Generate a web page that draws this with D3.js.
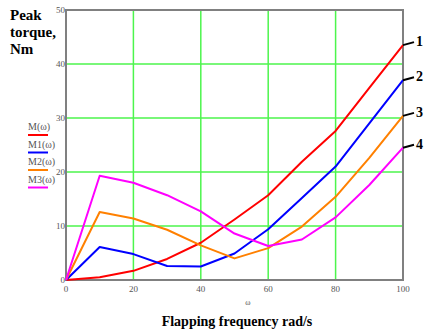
<!DOCTYPE html>
<html>
<head>
<meta charset="utf-8">
<script src="https://cdn.jsdelivr.net/npm/d3@7"></script>
<style>
  body { margin: 0; background: #fff; }
  svg { display: block; }
</style>
</head>
<body>
<script>
// frequency values (rad/s)
const omega = [0, 10, 20, 30, 40, 50, 60, 70, 80, 90, 100];

// peak torque series, Nm
const M  = [0, 0.5, 1.7, 3.9, 6.9, 11.2, 15.7, 21.9, 27.6, 35.6, 43.5];
const M1 = [0, 6.1, 4.8, 2.6, 2.5, 4.9, 9.4, 15.2, 21.0, 29.0, 37.0];
const M2 = [0, 12.6, 11.4, 9.3, 6.4, 4.0, 5.9, 9.9, 15.4, 22.6, 30.4];
const M3 = [0, 19.3, 18.0, 15.7, 12.7, 8.6, 6.3, 7.5, 11.6, 17.6, 24.5];

const seriesNames = ["M(\u03c9)", "M1(\u03c9)", "M2(\u03c9)", "M3(\u03c9)"];
const seriesColors = ["#ff0000", "#0000ff", "#ff8000", "#ff00ff"];
const curveLabels = ["1", "2", "3", "4"];

const xTicks = [0, 20, 40, 60, 80, 100];
const yTicks = [0, 10, 20, 30, 40, 50];

const W = 426, H = 332;
const margin = {left: 66, right: 23, top: 10, bottom: 52};

const svg = d3.select("body").append("svg")
    .attr("width", W)
    .attr("height", H);

const x = d3.scaleLinear().domain([0, 100]).range([margin.left, W - margin.right]);
const y = d3.scaleLinear().domain([0, 50]).range([H - margin.bottom, margin.top]);

// grid
svg.append("g").selectAll("line.gx")
    .data(xTicks.slice(1, -1))
    .join("line")
    .attr("x1", d => x(d)).attr("x2", d => x(d))
    .attr("y1", y(0)).attr("y2", y(50))
    .attr("stroke", "#4cf54c").attr("stroke-width", 1.5);

svg.append("g").selectAll("line.gy")
    .data(yTicks.slice(1, -1))
    .join("line")
    .attr("x1", x(0)).attr("x2", x(100))
    .attr("y1", d => y(d)).attr("y2", d => y(d))
    .attr("stroke", "#4cf54c").attr("stroke-width", 1.5);

// frame
svg.append("rect")
    .attr("x", x(0)).attr("y", y(50))
    .attr("width", x(100) - x(0)).attr("height", y(0) - y(50))
    .attr("fill", "none")
    .attr("stroke", "#808080")
    .attr("stroke-width", 2);

// tick labels
const tickFont = "'Liberation Serif', 'DejaVu Serif', serif";
svg.append("g").selectAll("text")
    .data(xTicks)
    .join("text")
    .attr("x", d => x(d))
    .attr("y", y(0) + 12)
    .attr("text-anchor", "middle")
    .attr("font-family", tickFont)
    .attr("font-size", 9)
    .attr("fill", "#555")
    .text(d => d);

svg.append("g").selectAll("text")
    .data(yTicks)
    .join("text")
    .attr("x", x(0) - 1)
    .attr("y", d => y(d) + 3)
    .attr("text-anchor", "end")
    .attr("font-family", tickFont)
    .attr("font-size", 9)
    .attr("fill", "#555")
    .text(d => d);

// series lines
const allSeries = [M, M1, M2, M3];
const line = d3.line()
    .x((d, i) => x(omega[i]))
    .y(d => y(d));

svg.append("g").selectAll("path")
    .data(allSeries)
    .join("path")
    .attr("d", line)
    .attr("fill", "none")
    .attr("stroke", (d, i) => seriesColors[i])
    .attr("stroke-width", 2)
    .attr("stroke-linejoin", "round");

// numbered curve labels with leaders
const labG = svg.append("g");
allSeries.forEach((s, i) => {
    const ex = x(100), ey = y(s[s.length - 1]);
    labG.append("line")
        .attr("x1", ex).attr("y1", ey)
        .attr("x2", ex + 11).attr("y2", ey - 3)
        .attr("stroke", "#000").attr("stroke-width", 2);
    labG.append("text")
        .attr("x", ex + 13)
        .attr("y", ey + 1)
        .attr("font-family", "'Liberation Serif', serif")
        .attr("font-weight", "bold")
        .attr("font-size", 14)
        .text(curveLabels[i]);
});

// legend on the left
const leg = svg.append("g");
seriesNames.forEach((n, i) => {
    const ly = 130 + i * 17.5;
    leg.append("text")
        .attr("x", 28)
        .attr("y", ly)
        .attr("font-family", tickFont)
        .attr("font-size", 10)
        .attr("fill", "#555")
        .text(n);
    leg.append("line")
        .attr("x1", 28).attr("x2", 48)
        .attr("y1", ly + 5).attr("y2", ly + 5)
        .attr("stroke", seriesColors[i])
        .attr("stroke-width", 2);
});

// axis titles
const yTitle = ["Peak", "torque,", "Nm"];
svg.append("g").selectAll("text")
    .data(yTitle)
    .join("text")
    .attr("x", 10)
    .attr("y", (d, i) => 20 + i * 17)
    .attr("font-family", "'Liberation Serif', serif")
    .attr("font-weight", "bold")
    .attr("font-size", 15)
    .text(d => d);

svg.append("text")
    .attr("x", 248)
    .attr("y", 305)
    .attr("text-anchor", "middle")
    .attr("font-family", tickFont)
    .attr("font-size", 8)
    .attr("fill", "#555")
    .text("\u03c9");

svg.append("text")
    .attr("x", 237)
    .attr("y", 326)
    .attr("text-anchor", "middle")
    .attr("font-family", "'Liberation Serif', serif")
    .attr("font-weight", "bold")
    .attr("font-size", 14)
    .text("Flapping frequency rad/s");
</script>
</body>
</html>
